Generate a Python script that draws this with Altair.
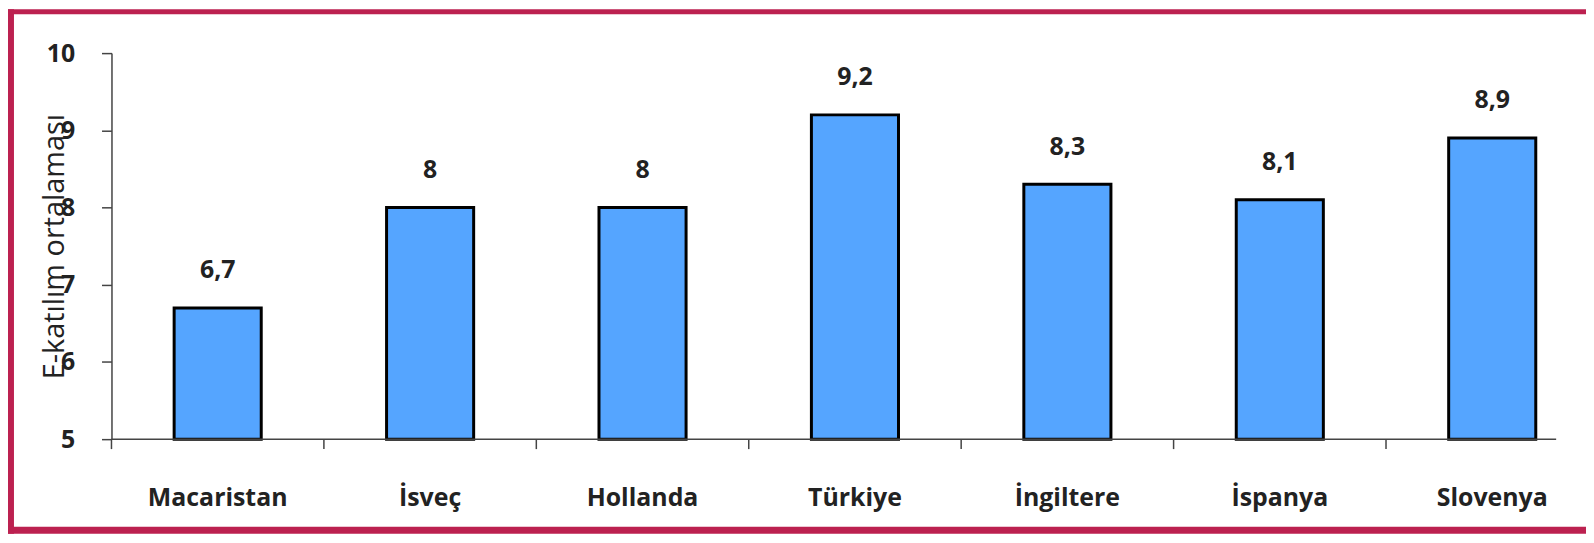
import altair as alt
import pandas as pd

countries = ["Macaristan", "İsveç", "Hollanda", "Türkiye", "İngiltere", "İspanya", "Slovenya"]
values = [6.7, 8.0, 8.0, 9.2, 8.3, 8.1, 8.9]
value_labels = ["6,7", "8", "8", "9,2", "8,3", "8,1", "8,9"]
y_ticks = [5, 6, 7, 8, 9, 10]
y_min = 5

df = pd.DataFrame({"country": countries, "value": values, "label": value_labels})

W = 1452
H = 388
FONT = "Open Sans"
BORDER = "#BC2150"

xscale = alt.Scale(domain=countries, range=[0, 1494.5], paddingInner=0, paddingOuter=0)
yscale = alt.Scale(domain=[5, 10], nice=False, zero=False)

base = alt.Chart(df)

bars = base.mark_bar(
    width=alt.RelativeBandSize(0.41), color="#55A5FF", stroke="black", strokeWidth=3
).encode(
    x=alt.X("country:N", scale=xscale, sort=countries,
            axis=alt.Axis(title=None, domain=False, ticks=False, labelAngle=0,
                          labelFont=FONT, labelFontSize=25, labelFontWeight="bold",
                          labelColor="#222222", labelBaseline="middle", labelPadding=59)),
    y=alt.Y("value:Q", scale=yscale,
            axis=alt.Axis(values=y_ticks, format="d", title="E-katılım ortalaması", grid=False,
                          domainColor="#444444", domainWidth=1.5, tickColor="#444444",
                          tickWidth=1.5, tickSize=10, labelPadding=27,
                          labelFont=FONT, labelFontSize=25, labelFontWeight="bold",
                          labelColor="#222222",
                          titleFont=FONT, titleFontSize=29, titleFontWeight="normal",
                          titleColor="#222222", titleAngle=-90, titleX=-57, titleY=H / 2,
                          titleAlign="center", titleBaseline="middle")),
    y2=alt.datum(y_min),
)

texts = base.mark_text(
    font=FONT, fontSize=25, fontWeight="bold", color="#222222", dy=-38, baseline="middle"
).encode(
    x=alt.X("country:N", scale=xscale, sort=countries),
    y=alt.Y("value:Q", scale=yscale),
    text="label:N",
)

xticks = base.mark_rule(color="#444444", strokeWidth=1.5).encode(
    x=alt.X("country:N", scale=xscale, sort=countries, bandPosition=0),
    y=alt.value(H),
    y2=alt.value(H + 10),
)

one = alt.Data(values=[{"a": 1}])
baseline = alt.Chart(one).mark_rule(color="#444444", strokeWidth=1.5).encode(
    x=alt.value(0), x2=alt.value(W), y=alt.value(H)
)

frame_left = alt.Chart(one).mark_rect(color=BORDER).encode(
    x=alt.value(-104), x2=alt.value(-98), y=alt.value(-44), y2=alt.value(483)
)
frame_top = alt.Chart(one).mark_rect(color=BORDER).encode(
    x=alt.value(-104), x2=alt.value(1482), y=alt.value(-44), y2=alt.value(-39)
)
frame_bottom = alt.Chart(one).mark_rect(color=BORDER).encode(
    x=alt.value(-104), x2=alt.value(1482), y=alt.value(476), y2=alt.value(483)
)

chart = alt.layer(
    bars, texts, xticks, baseline, frame_left, frame_top, frame_bottom
).properties(
    width=W, height=H,
    background="white",
    autosize=alt.AutoSizeParams(type="none"),
    padding={"left": 104, "top": 44, "right": 30, "bottom": 95},
).configure_view(strokeWidth=0, stroke="transparent")

chart.save("out.html", embed_options={"renderer": "svg", "actions": False})
